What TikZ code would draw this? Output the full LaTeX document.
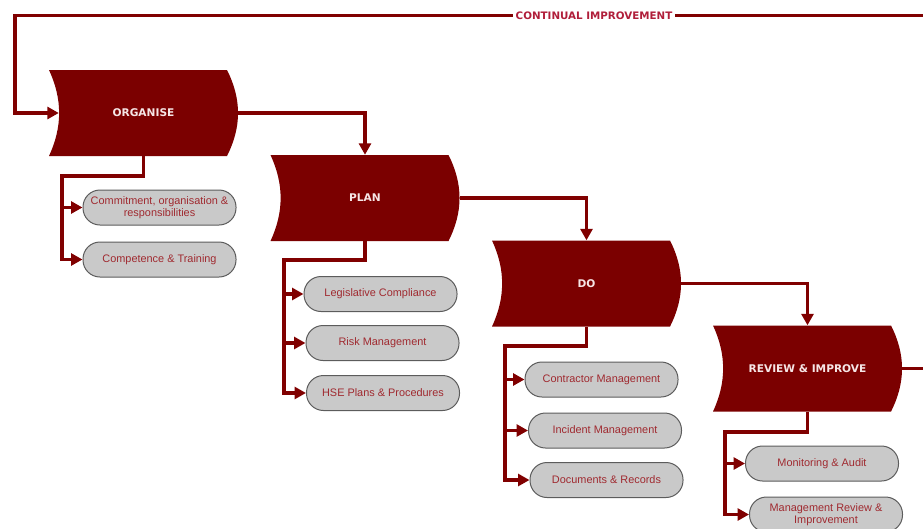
\documentclass[tikz,border=0pt]{standalone}
\usepackage{fontspec}
\setmainfont{Liberation Sans}
\newfontfamily\headfont{DejaVu Sans}
\usetikzlibrary{arrows.meta}

\definecolor{stagered}{HTML}{7B0000}
\definecolor{flowred}{HTML}{800000}
\definecolor{stagetext}{HTML}{F6E6E6}
\definecolor{pillfill}{HTML}{C9C9C9}
\definecolor{pillline}{HTML}{5C5C5C}
\definecolor{pilltext}{HTML}{A02A30}
\definecolor{looptext}{HTML}{B01E3A}

\tikzset{
  stage/.style={
    minimum width=189pt, minimum height=86pt, inner sep=0pt,
    text=stagetext, font=\headfont\bfseries\fontsize{10.6}{12}\selectfont,
    path picture={
      \fill[stagered]
        (path picture bounding box.north west)
          .. controls +(13.5pt,-29pt) and +(13.5pt,29pt) ..
        (path picture bounding box.south west)
        -- ([xshift=-11pt]path picture bounding box.south east)
          .. controls +(14.7pt,29pt) and +(14.7pt,-29pt) ..
        ([xshift=-11pt]path picture bounding box.north east)
        -- cycle;
    }
  },
  pill/.style={
    rectangle, rounded corners=17pt, minimum width=153pt, minimum height=35pt,
    inner sep=0pt, draw=pillline, line width=1pt, fill=pillfill,
    text=pilltext, align=center, font=\fontsize{10.9}{12}\selectfont
  },
  flow/.style={draw=flowred, line width=3.2pt, line join=miter},
  flowarrow/.style={flow, -{Triangle[length=11.5pt,width=12pt]}},
  looplabel/.style={fill=white, inner xsep=3pt, inner ysep=2pt,
    text=looptext, font=\headfont\bfseries\fontsize{10.3}{12}\selectfont}
}

\begin{document}
\begin{tikzpicture}[x=1pt,y=-1pt]
\path[use as bounding box] (0,0) rectangle (923,528);
\clip (0,0) rectangle (923,528);

% main stages
\node[stage] (organise) at (143.5,113) {ORGANISE};
\node[stage] (plan)     at (365,198)   {PLAN};
\node[stage] (do)       at (586.5,283.5) {DO};
\node[stage] (review)   at (807.5,368.5) {REVIEW \& IMPROVE};

% sub-activities
\node[pill] (o1) at (159.5,207.5) {Commitment, organisation \&\\responsibilities};
\node[pill] (o2) at (159.5,259.5) {Competence \& Training};
\node[pill] (p1) at (380.5,294)   {Legislative Compliance};
\node[pill] (p2) at (382.5,343)   {Risk Management};
\node[pill] (p3) at (383,393)     {HSE Plans \& Procedures};
\node[pill] (d1) at (601.5,379.5) {Contractor Management};
\node[pill] (d2) at (605,430.5)   {Incident Management};
\node[pill] (d3) at (606.5,480)   {Documents \& Records};
\node[pill] (r1) at (822,463.5)   {Monitoring \& Audit};
\node[pill] (r2) at (826,514.5)   {Management Review \&\\Improvement};

% stage to stage
\draw[flowarrow] (organise.east) -| (plan.north);
\draw[flowarrow] (plan.east) -| (do.north);
\draw[flowarrow] (do.east) -| (review.north);

% branch junctions
\coordinate (oj) at (62,176);
\coordinate (pj) at (284,260);
\coordinate (dj) at (505,346);
\coordinate (rj) at (725,432);

\draw[flowarrow] (organise.south) |- (oj) |- (o2.west);
\draw[flowarrow] (oj) |- (o1.west);

\draw[flowarrow] (plan.south) |- (pj) |- (p3.west);
\draw[flowarrow] (pj) |- (p1.west);
\draw[flowarrow] (pj) |- (p2.west);

\draw[flowarrow] (do.south) |- (dj) |- (d3.west);
\draw[flowarrow] (dj) |- (d1.west);
\draw[flowarrow] (dj) |- (d2.west);

\draw[flowarrow] (review.south) |- (rj) |- (r2.west);
\draw[flowarrow] (rj) |- (r1.west);

% continual improvement loop
\coordinate (loopR) at (960,15.5);
\coordinate (loopL) at (15,15.5);
\draw[flowarrow] (review.east) -| (loopR) -- (loopL) |- ([xshift=10pt]organise.west);
\node[looplabel] (loop) at (594,15.5) {CONTINUAL IMPROVEMENT};
\end{tikzpicture}
\end{document}
